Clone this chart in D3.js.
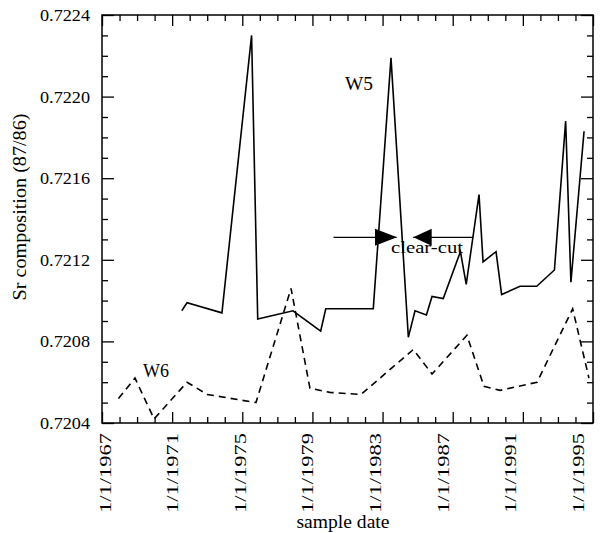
<!DOCTYPE html>
<html>
<head>
<meta charset="utf-8">
<script src="https://cdn.jsdelivr.net/npm/d3@7"></script>
<style>
  body { margin: 0; background: #fff; }
  svg { display: block; font-family: "Liberation Serif", "DejaVu Serif", serif; }
</style>
</head>
<body>
<div class="chart"></div>
<script>
const width = 600;
const height = 533;

// W5 (solid) and W6 (dashed), decimal years vs 87Sr/86Sr
const w5Years = [1971.55, 1971.85, 1973.84, 1975.53, 1975.88, 1977.89, 1979.47, 1979.76, 1982.47, 1983.48,
  1984.47, 1984.85, 1985.50, 1985.82, 1986.46, 1987.44, 1987.77, 1988.50, 1988.73, 1989.47,
  1989.79, 1990.84, 1991.79, 1992.80, 1993.44, 1993.74, 1994.49];
const w5Values = [0.72095, 0.72099, 0.72094, 0.72230, 0.72091, 0.72095, 0.72085, 0.72096, 0.72096, 0.72219,
  0.72082, 0.72095, 0.72093, 0.72102, 0.72101, 0.72124, 0.72108, 0.72152, 0.72119, 0.72124,
  0.72103, 0.72107, 0.72107, 0.72115, 0.72188, 0.72109, 0.72183];

const w6Years = [1967.94, 1968.88, 1969.97, 1971.85, 1972.99, 1975.78, 1977.78, 1978.86, 1980.00, 1981.77,
  1984.75, 1985.82, 1987.81, 1988.78, 1989.70, 1991.81, 1993.84, 1994.77];
const w6Values = [0.72052, 0.72062, 0.72042, 0.72060, 0.72054, 0.72050, 0.72106, 0.72057, 0.72055, 0.72054,
  0.72076, 0.72064, 0.72083, 0.72058, 0.72056, 0.72060, 0.72096, 0.72062];

const yTicks = [0.7204, 0.7208, 0.7212, 0.7216, 0.7220, 0.7224];
const xTickYears = [1967, 1971, 1975, 1979, 1983, 1987, 1991, 1995];
const yMinor = d3.range(0, 21).map(i => 0.7204 + i * 0.0001);
const xMinor = d3.range(1967, 1996);

const svg = d3.select(".chart").append("svg")
  .attr("width", width)
  .attr("height", height);

const x = d3.scaleLinear().domain([1967, 1995]).range([102, 593]);
const y = d3.scaleLinear().domain([0.7204, 0.7224]).range([423, 15]);
// the printed date labels drift slightly from the tick marks in the original
const xLabel = d3.scaleLinear().domain([1967, 1995]).range([105, 578]);

const isMajorY = v => yTicks.some(t => Math.abs(t - v) < 1e-7);
const isMajorX = v => xTickYears.includes(v);

function tickStyle(g) {
  g.select(".domain").remove();
  g.selectAll("line").attr("stroke", "#000").attr("stroke-width", 1.3);
}

// minor ticks, all four sides, pointing inward
svg.append("g").attr("transform", "translate(102,0)")
  .call(d3.axisLeft(y).tickValues(yMinor.filter(v => !isMajorY(v))).tickSize(-6).tickFormat(""))
  .call(tickStyle);
svg.append("g").attr("transform", "translate(593,0)")
  .call(d3.axisRight(y).tickValues(yMinor.filter(v => !isMajorY(v))).tickSize(-6).tickFormat(""))
  .call(tickStyle);
svg.append("g").attr("transform", "translate(0,423)")
  .call(d3.axisBottom(x).tickValues(xMinor.filter(v => !isMajorX(v))).tickSize(-6).tickFormat(""))
  .call(tickStyle);
svg.append("g").attr("transform", "translate(0,15)")
  .call(d3.axisTop(x).tickValues(xMinor.filter(v => !isMajorX(v))).tickSize(-6).tickFormat(""))
  .call(tickStyle);

// major ticks
const yAxis = svg.append("g").attr("transform", "translate(102,0)")
  .call(d3.axisLeft(y).tickValues(yTicks).tickSize(-12).tickPadding(12).tickFormat(d3.format(".4f")))
  .call(tickStyle);
yAxis.selectAll("text").attr("font-size", 17).attr("fill", "#000")
  .attr("font-family", "'Liberation Serif', serif")
  .attr("textLength", 50).attr("lengthAdjust", "spacingAndGlyphs");

svg.append("g").attr("transform", "translate(593,0)")
  .call(d3.axisRight(y).tickValues(yTicks).tickSize(-12).tickFormat(""))
  .call(tickStyle);
svg.append("g").attr("transform", "translate(0,423)")
  .call(d3.axisBottom(x).tickValues(xTickYears).tickSize(-11).tickFormat(""))
  .call(tickStyle);
svg.append("g").attr("transform", "translate(0,15)")
  .call(d3.axisTop(x).tickValues(xTickYears).tickSize(-11).tickFormat(""))
  .call(tickStyle);

// rotated date labels
svg.append("g").selectAll("text")
  .data(xTickYears)
  .enter()
  .append("text")
  .attr("transform", d => `translate(${xLabel(d)},433) rotate(-90)`)
  .attr("text-anchor", "end")
  .attr("dy", "0.35em")
  .attr("font-size", 16.5)
  .attr("textLength", 80)
  .attr("lengthAdjust", "spacingAndGlyphs")
  .text(d => "1/1/" + d);

// frame
svg.append("rect")
  .attr("x", 102).attr("y", 15)
  .attr("width", 491).attr("height", 408)
  .attr("fill", "none")
  .attr("stroke", "#000")
  .attr("stroke-width", 1.5);

const line = d3.line()
  .x(d => x(d[0]))
  .y(d => y(d[1]));

svg.append("path")
  .datum(d3.zip(w5Years, w5Values))
  .attr("d", line)
  .attr("fill", "none")
  .attr("stroke", "#000")
  .attr("stroke-width", 1.6)
  .attr("stroke-linejoin", "miter");

svg.append("path")
  .datum(d3.zip(w6Years, w6Values))
  .attr("d", line)
  .attr("fill", "none")
  .attr("stroke", "#000")
  .attr("stroke-width", 1.6)
  .attr("stroke-dasharray", "7,5");

// series labels
svg.append("text").attr("x", x(1980.86)).attr("y", y(0.72203))
  .attr("font-size", 18).attr("textLength", 28).attr("lengthAdjust", "spacingAndGlyphs")
  .text("W5");
svg.append("text").attr("x", x(1969.34)).attr("y", y(0.720626))
  .attr("font-size", 18).attr("textLength", 26).attr("lengthAdjust", "spacingAndGlyphs")
  .text("W6");

// clear-cut arrows
const arrowY = y(0.72131);
svg.append("line")
  .attr("x1", x(1980.2)).attr("x2", x(1983.8))
  .attr("y1", arrowY).attr("y2", arrowY)
  .attr("stroke", "#000").attr("stroke-width", 1.2);
svg.append("path")
  .attr("d", `M${x(1982.57)},${arrowY - 8.5}L${x(1983.82)},${arrowY}L${x(1982.57)},${arrowY + 8.5}Z`)
  .attr("fill", "#000");
svg.append("line")
  .attr("x1", x(1984.75)).attr("x2", x(1988.17))
  .attr("y1", arrowY).attr("y2", arrowY)
  .attr("stroke", "#000").attr("stroke-width", 1.2);
svg.append("path")
  .attr("d", `M${x(1985.8)},${arrowY - 8.5}L${x(1984.75)},${arrowY}L${x(1985.8)},${arrowY + 8.5}Z`)
  .attr("fill", "#000");
svg.append("text").attr("x", 391).attr("y", 253)
  .attr("font-size", 17).attr("textLength", 72).attr("lengthAdjust", "spacingAndGlyphs")
  .text("clear-cut");

// axis titles
svg.append("text")
  .attr("transform", "translate(20,207) rotate(-90)")
  .attr("text-anchor", "middle")
  .attr("dy", "0.35em")
  .attr("font-size", 18)
  .attr("textLength", 187).attr("lengthAdjust", "spacingAndGlyphs")
  .text("Sr composition (87/86)");
svg.append("text")
  .attr("x", 343).attr("y", 528)
  .attr("text-anchor", "middle")
  .attr("font-size", 18)
  .attr("textLength", 93).attr("lengthAdjust", "spacingAndGlyphs")
  .text("sample date");
</script>
</body>
</html>
